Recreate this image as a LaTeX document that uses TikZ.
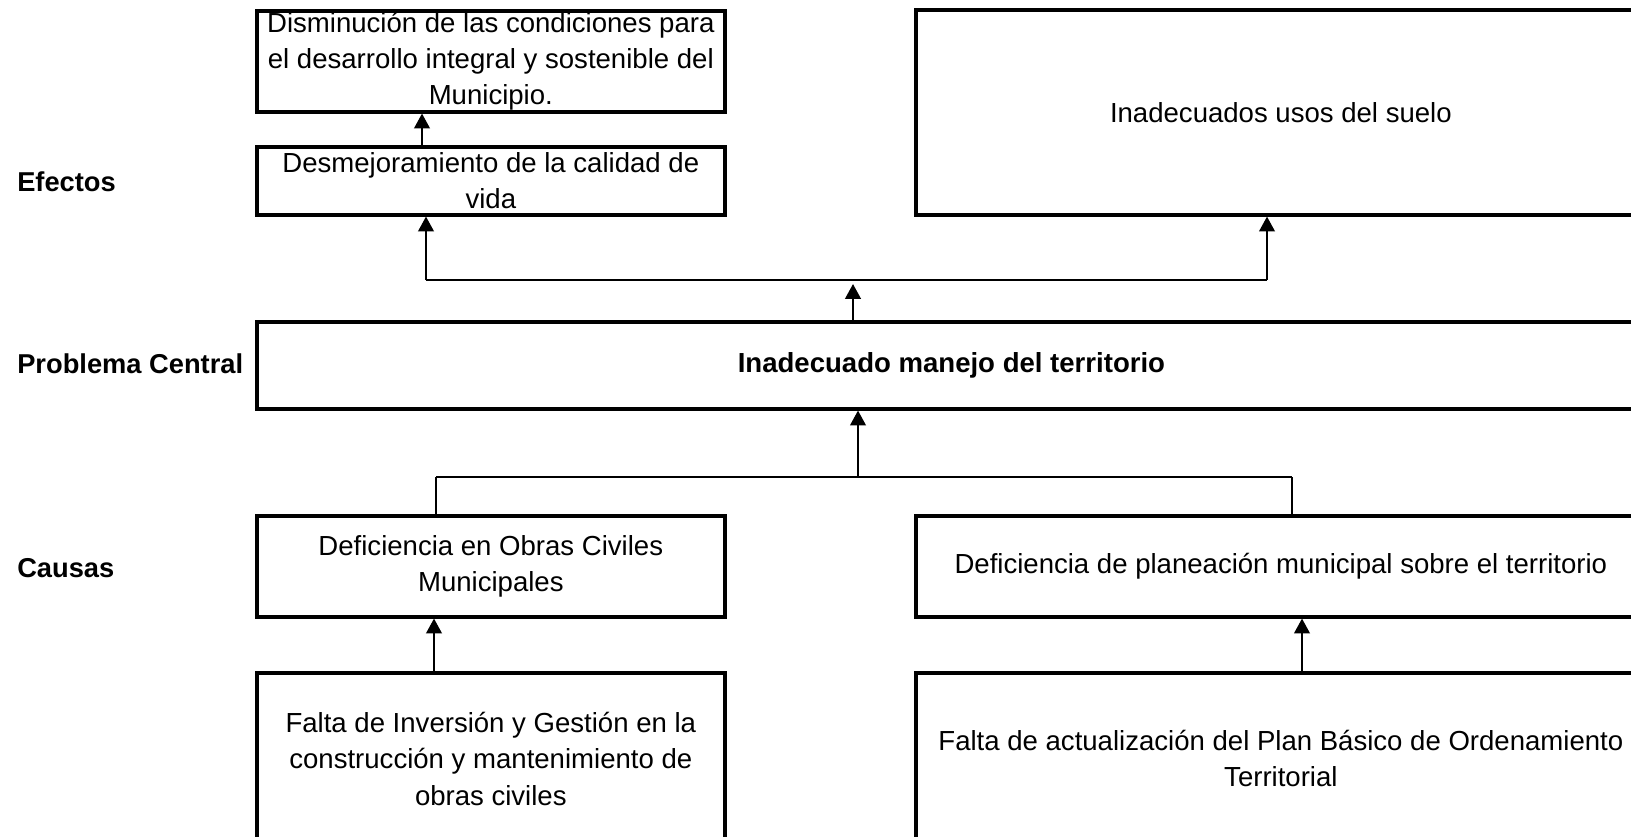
\documentclass[tikz,border=0pt]{standalone}
\usepackage{fontspec}
\setmainfont{Liberation Sans}
\usepackage{xcolor}
\usepackage{tikz}
\usetikzlibrary{arrows.meta}

\begin{document}
\begin{tikzpicture}[x=0.025cm,y=-0.025cm,
            caja/.style={draw,line width=2.5pt,inner sep=0pt,align=center,anchor=north west,
                font=\fontsize{19.6}{25.8}\selectfont},
            etiqueta/.style={anchor=west,inner sep=0pt,font=\fontsize{19.4}{23}\selectfont\bfseries},
            linea/.style={line width=1.6pt},
            flecha/.style={linea,-{Triangle[width=11pt,length=10.5pt]}}]
        \useasboundingbox (0,0) rectangle (1631,836);
        \clip (0,0) rectangle (1631,836);
        \node[etiqueta] (lefectos) at (17,182) {Efectos};
        \node[etiqueta] (lproblema) at (17,364) {Problema Central};
        \node[etiqueta] (lcausas) at (17,568) {Causas};
        \node[caja,minimum width=11.7cm,minimum height=2.525cm] (efecto1) at (255,9)
            {Disminución de las condiciones para\\el desarrollo integral y sostenible del\\Municipio.};
        \node[caja,minimum width=11.7cm,minimum height=1.7cm] (efecto2) at (255,145)
            {Desmejoramiento de la calidad de\\vida};
        \node[caja,minimum width=18.25cm,minimum height=5.125cm] (efecto3) at (914,8)
            {Inadecuados usos del suelo};
        \node[caja,minimum width=34.725cm,minimum height=2.175cm,font=\fontsize{19.6}{25.8}\selectfont\bfseries] (central) at (255,320)
            {Inadecuado manejo del territorio};
        \node[caja,minimum width=11.7cm,minimum height=2.525cm] (causa1) at (255,514)
            {Deficiencia en Obras Civiles\\Municipales};
        \node[caja,minimum width=18.25cm,minimum height=2.525cm] (causa2) at (914,514)
            {Deficiencia de planeación municipal sobre el territorio};
        \node[caja,minimum width=11.7cm,minimum height=4.3cm] (raiz1) at (255,671)
            {Falta de Inversión y Gestión en la\\construcción y mantenimiento de\\obras civiles};
        \node[caja,minimum width=18.25cm,minimum height=4.3cm] (raiz2) at (914,671)
            {Falta de actualización del Plan Básico de Ordenamiento\\Territorial};
        \coordinate (ce) at (422,0);
        \coordinate (ue1) at (426,280);
        \coordinate (ue2) at (1267,280);
        \coordinate (me) at (853,284);
        \coordinate (uc1) at (436,477);
        \coordinate (uc2) at (1292,477);
        \coordinate (mc) at (858,477);
        \coordinate (r1) at (434,0);
        \coordinate (r2) at (1302,0);
        \draw[flecha] (efecto2.north -| ce) -- (efecto1.south -| ce);
        \draw[linea] (ue1) -- (ue2);
        \draw[flecha] (ue1) -- (efecto2.south -| ue1);
        \draw[flecha] (ue2) -- (efecto3.south -| ue2);
        \draw[flecha] (central.north -| me) -- (me);
        \draw[linea] (uc1) -- (uc2);
        \draw[linea] (uc1) -- (causa1.north -| uc1);
        \draw[linea] (uc2) -- (causa2.north -| uc2);
        \draw[flecha] (mc) -- (central.south -| mc);
        \draw[flecha] (raiz1.north -| r1) -- (causa1.south -| r1);
        \draw[flecha] (raiz2.north -| r2) -- (causa2.south -| r2);
    \end{tikzpicture}
\end{document}
